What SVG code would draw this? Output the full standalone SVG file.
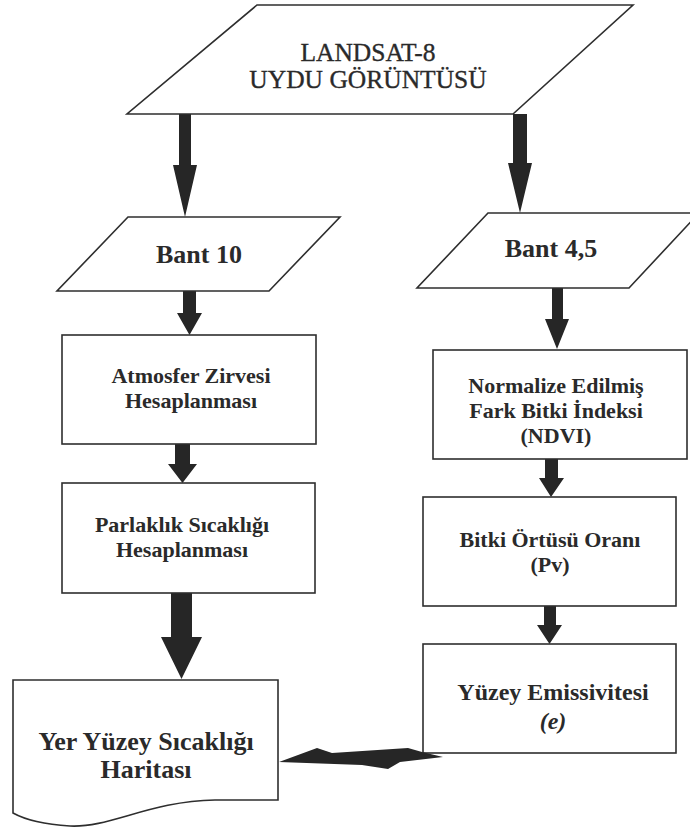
<svg xmlns="http://www.w3.org/2000/svg" width="690" height="827" viewBox="0 0 690 827">
<style>
.shape{fill:#fff;stroke:#2e2e2e;stroke-width:1.6}
.arr{fill:#262626;stroke:none}
text{font-family:"Liberation Serif","Times New Roman",serif;fill:#2a2a2a;text-anchor:middle}
.t{font-size:26px}
.h{font-size:25.5px;stroke:#2a2a2a;stroke-width:0.35}
.b{font-weight:bold}
.s{font-size:22px;font-weight:bold}
.m{font-size:24px;font-weight:bold}
</style>
<rect width="690" height="827" fill="#fff"/>
<g id="connectors">
  <polygon class="arr" points="179,114 191,114 191,165 197,165 185,217 173,165 179,165"/>
  <polygon class="arr" points="513,114 527,114 527,163 532,163 520,213 508,163 513,163"/>
  <polygon class="arr" points="183,291 196,291 196,313 202,313 189.5,335 177,313 183,313"/>
  <polygon class="arr" points="552,288 563,288 563,319 569,319 557,349 545,319 552,319"/>
  <polygon class="arr" points="175,444 190,444 190,464 197,464 182.5,483 168,464 175,464"/>
  <polygon class="arr" points="545,459 558,459 558,478 564,478 551,497 539,478 545,478"/>
  <polygon class="arr" points="171,593 192,593 192,637 202,637 181.5,679 161,637 171,637"/>
  <polygon class="arr" points="544,606 556,606 556,625 562,625 549.5,644 537,625 544,625"/>
</g>
<g id="n-landsat">
  <polygon class="shape" points="257,5 633,5 513,114 127,114"/>
  <text class="h" x="368" y="61">LANDSAT-8</text>
  <text class="h" x="368" y="88">UYDU GÖRÜNTÜSÜ</text>
</g>
<g id="n-bant10">
  <polygon class="shape" points="128,217 340,217 269,291 57,291"/>
  <text class="t b" x="199" y="263">Bant 10</text>
</g>
<g id="n-bant45">
  <polygon class="shape" points="488,213 699,213 629,288 417,288"/>
  <text class="t b" x="551" y="257">Bant 4,5</text>
</g>
<g id="n-atmosfer">
  <rect class="shape" x="62" y="335" width="254" height="109"/>
  <text class="s" x="191" y="383">Atmosfer Zirvesi</text>
  <text class="s" x="191" y="408">Hesaplanması</text>
</g>
<g id="n-parlaklik">
  <rect class="shape" x="62" y="483" width="253" height="110"/>
  <text class="s" x="182" y="532">Parlaklık Sıcaklığı</text>
  <text class="s" x="182" y="557">Hesaplanması</text>
</g>
<g id="n-ndvi">
  <rect class="shape" x="433" y="350" width="254" height="109"/>
  <text class="s" x="556" y="393">Normalize Edilmiş</text>
  <text class="s" x="556" y="418">Fark Bitki İndeksi</text>
  <text class="s" x="556" y="443">(NDVI)</text>
</g>
<g id="n-bitki">
  <rect class="shape" x="423" y="497" width="253" height="109"/>
  <text class="s" x="550" y="547">Bitki Örtüsü Oranı</text>
  <text class="s" x="550" y="572">(Pv)</text>
</g>
<g id="n-yuzey">
  <rect class="shape" x="423" y="644" width="253" height="109"/>
  <text class="m" x="553" y="700">Yüzey Emissivitesi</text>
  <text class="m" x="553" y="729" font-style="italic">(e)</text>
</g>
<g id="n-yer">
  <path class="shape" d="M13,680 H278 V800 H215 C150,801 110,828 70,826 C40,824 22,818 13,813 Z"/>
  <text class="t b" x="146" y="750">Yer Yüzey Sıcaklığı</text>
  <text class="t b" x="146" y="778">Haritası</text>
</g>
<g id="connector-return">
  <polygon class="arr" points="279,762 317,748 332,753 408,748 422,752 443,757 400,762 388,769 362,765"/>
</g>
</svg>
